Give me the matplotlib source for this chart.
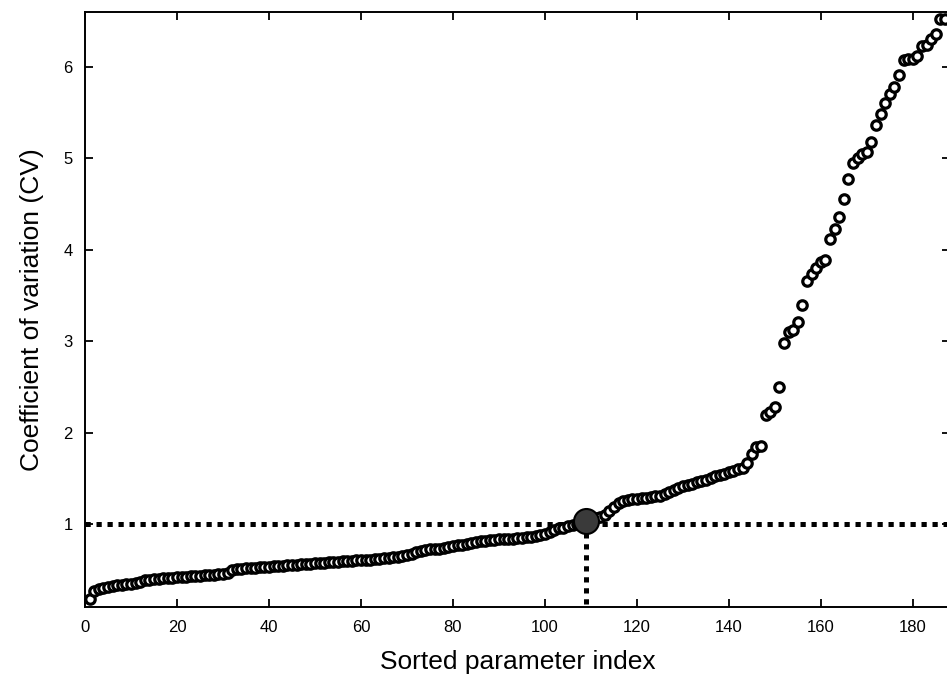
import numpy as np
import matplotlib
matplotlib.use("Agg")
import matplotlib.pyplot as plt

plt.rcParams['font.family'] = ['Liberation Sans', 'DejaVu Sans']

# sorted coefficient of variation, one value per parameter (index 1..187)
cv_values = [
    0.18, 0.27, 0.29, 0.30, 0.31, 0.32, 0.33, 0.33, 0.34, 0.34,
    0.35, 0.36, 0.39, 0.39, 0.40, 0.40, 0.41, 0.41, 0.41, 0.42,
    0.42, 0.42, 0.43, 0.43, 0.43, 0.44, 0.44, 0.44, 0.45, 0.45,
    0.46, 0.50, 0.51, 0.51, 0.52, 0.52, 0.52, 0.53, 0.53, 0.53,
    0.54, 0.54, 0.54, 0.55, 0.55, 0.55, 0.56, 0.56, 0.56, 0.57,
    0.57, 0.57, 0.58, 0.58, 0.58, 0.59, 0.59, 0.59, 0.60, 0.60,
    0.60, 0.61, 0.62, 0.62, 0.63, 0.63, 0.64, 0.64, 0.65, 0.66,
    0.67, 0.69, 0.70, 0.71, 0.72, 0.73, 0.73, 0.74, 0.75, 0.76,
    0.77, 0.77, 0.78, 0.79, 0.80, 0.81, 0.81, 0.82, 0.82, 0.83,
    0.83, 0.84, 0.84, 0.85, 0.85, 0.86, 0.86, 0.87, 0.88, 0.89,
    0.91, 0.93, 0.95, 0.96, 0.98, 0.99, 1.00, 1.01, 1.03, 1.05,
    1.06, 1.08, 1.10, 1.14, 1.19, 1.23, 1.25, 1.26, 1.27, 1.27,
    1.28, 1.28, 1.29, 1.30, 1.31, 1.33, 1.35, 1.37, 1.39, 1.41,
    1.43, 1.44, 1.46, 1.47, 1.48, 1.50, 1.52, 1.54, 1.55, 1.57,
    1.58, 1.60, 1.61, 1.67, 1.77, 1.84, 1.85, 2.19, 2.22, 2.28,
    2.50, 2.98, 3.10, 3.12, 3.21, 3.39, 3.66, 3.74, 3.80, 3.87,
    3.89, 4.12, 4.23, 4.36, 4.55, 4.77, 4.95, 5.00, 5.05, 5.07,
    5.18, 5.36, 5.49, 5.61, 5.70, 5.78, 5.91, 6.08, 6.09, 6.09,
    6.12, 6.23, 6.24, 6.31, 6.36, 6.53, 6.53,
]
param_index = list(range(1, len(cv_values) + 1))

threshold_cv = 1.0
cross_index = 109
cross_cv = 1.03

x_ticks = [0, 20, 40, 60, 80, 100, 120, 140, 160, 180]
y_ticks = [1, 2, 3, 4, 5, 6]

fig = plt.figure(figsize=(9.47, 6.76), dpi=100)
ax = fig.add_axes([0.0898, 0.102, 0.913, 0.880])

dots = dict(color='black', linewidth=3.6, linestyle=(0, (1.05, 1.15)),
            dash_capstyle='butt', zorder=1)
ax.axhline(threshold_cv, **dots)
ax.plot([cross_index, cross_index], [0.0, cross_cv], **dots)

ax.plot(param_index, cv_values, linestyle='none', marker='o',
        markersize=6.8, markerfacecolor='white', markeredgecolor='black',
        markeredgewidth=2.3, zorder=2)
ax.plot([cross_index], [cross_cv], marker='o', markersize=18,
        markerfacecolor='#3a3a3a', markeredgecolor='black',
        markeredgewidth=1.5, zorder=3)

ax.set_xlim(0, 188)
ax.set_ylim(0.09, 6.6)
ax.set_xticks(x_ticks)
ax.set_yticks(y_ticks)
ax.tick_params(direction='in', length=6, width=1.3, top=True, right=True,
               labelsize=12, pad=9)
for sp in ax.spines.values():
    sp.set_linewidth(1.4)

ax.set_xlabel('Sorted parameter index', fontsize=19, labelpad=11)
ax.set_ylabel('Coefficient of variation (CV)', fontsize=19, labelpad=14)

fig.savefig('out.png', dpi=100)
